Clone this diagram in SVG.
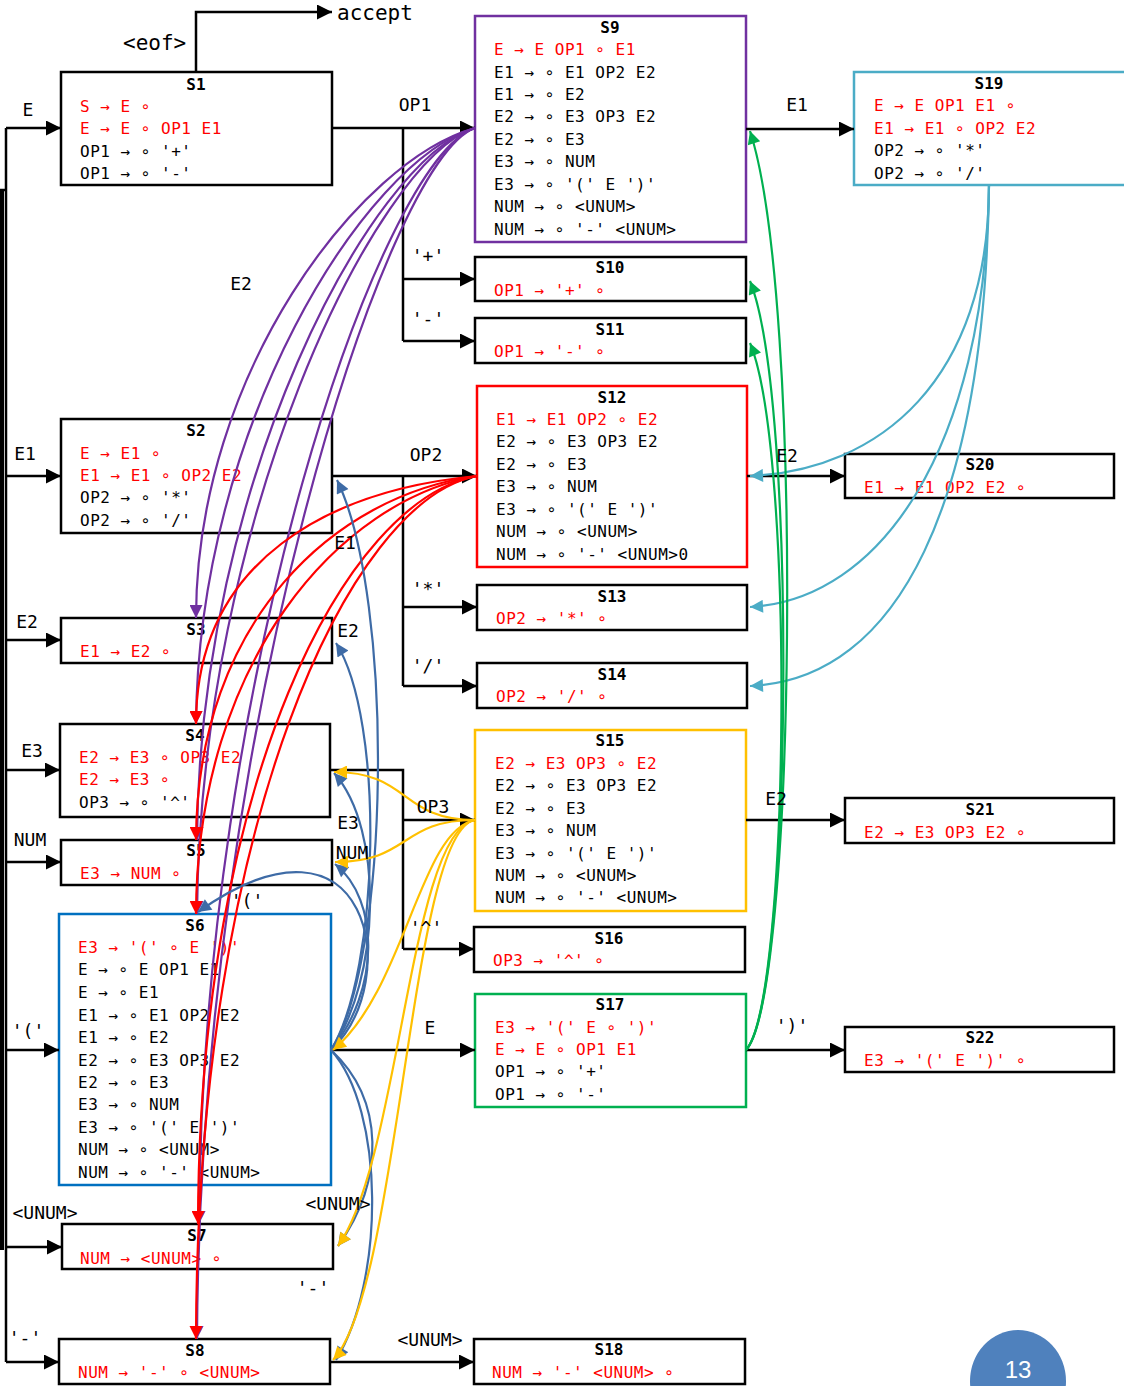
<svg xmlns="http://www.w3.org/2000/svg" width="1124" height="1386" viewBox="0 0 1124 1386">
<style>
  .box{fill:#fff;stroke:#000;stroke-width:2.5}
  .t{font-family:"DejaVu Sans Mono","Liberation Mono",monospace;font-size:16px;letter-spacing:0.5px;fill:#000}
  .r{fill:#ff0000}
  .h{font-family:"DejaVu Sans Mono","Liberation Mono",monospace;font-size:16px;font-weight:bold;text-anchor:middle;fill:#000}
  .lbl{font-family:"DejaVu Sans Mono","Liberation Mono",monospace;font-size:18px;text-anchor:middle;fill:#000}
  .big{font-family:"DejaVu Sans Mono","Liberation Mono",monospace;font-size:21px;fill:#000}
  .blk{fill:none;stroke:#000;stroke-width:2.5}
  .blka{fill:none;stroke:#000;stroke-width:2.5;marker-end:url(#ak)}
  .pu{fill:none;stroke:#7030a0;stroke-width:2.2;marker-end:url(#apu)}
  .rd{fill:none;stroke:#ff0000;stroke-width:2.2;marker-end:url(#ard)}
  .bl{fill:none;stroke:#3e6ba6;stroke-width:2.2;marker-end:url(#abl)}
  .ye{fill:none;stroke:#ffc000;stroke-width:2.2;marker-end:url(#aye)}
  .te{fill:none;stroke:#4bacc6;stroke-width:2.2;marker-end:url(#ate)}
  .gr{fill:none;stroke:#00b050;stroke-width:2.2;marker-end:url(#agr)}
</style>
<defs>
  <marker id="ak" viewBox="0 0 10 10" refX="10" refY="5" markerWidth="17" markerHeight="15" markerUnits="userSpaceOnUse" orient="auto"><path d="M0,0 L10,5 L0,10 z" fill="#000"/></marker>
  <marker id="apu" viewBox="0 0 10 10" refX="10" refY="5" markerWidth="16" markerHeight="13" markerUnits="userSpaceOnUse" orient="auto"><path d="M0,0 L10,5 L0,10 z" fill="#7030a0"/></marker>
  <marker id="ard" viewBox="0 0 10 10" refX="10" refY="5" markerWidth="16" markerHeight="13" markerUnits="userSpaceOnUse" orient="auto"><path d="M0,0 L10,5 L0,10 z" fill="#ff0000"/></marker>
  <marker id="abl" viewBox="0 0 10 10" refX="10" refY="5" markerWidth="16" markerHeight="13" markerUnits="userSpaceOnUse" orient="auto"><path d="M0,0 L10,5 L0,10 z" fill="#3e6ba6"/></marker>
  <marker id="aye" viewBox="0 0 10 10" refX="10" refY="5" markerWidth="16" markerHeight="13" markerUnits="userSpaceOnUse" orient="auto"><path d="M0,0 L10,5 L0,10 z" fill="#ffc000"/></marker>
  <marker id="ate" viewBox="0 0 10 10" refX="10" refY="5" markerWidth="16" markerHeight="13" markerUnits="userSpaceOnUse" orient="auto"><path d="M0,0 L10,5 L0,10 z" fill="#4bacc6"/></marker>
  <marker id="agr" viewBox="0 0 10 10" refX="10" refY="5" markerWidth="16" markerHeight="13" markerUnits="userSpaceOnUse" orient="auto"><path d="M0,0 L10,5 L0,10 z" fill="#00b050"/></marker>
</defs>
<rect width="1124" height="1386" fill="#fff"/>

<!-- states, left column -->
<g id="S1">
  <rect class="box" x="61" y="72" width="271" height="113"/>
  <text class="h" x="196" y="90">S1</text>
  <text class="t r" x="80" y="112">S → E ∘</text>
  <text class="t r" x="80" y="134">E → E ∘ OP1 E1</text>
  <text class="t" x="80" y="157">OP1 → ∘ '+'</text>
  <text class="t" x="80" y="179">OP1 → ∘ '-'</text>
</g>
<g id="S2">
  <rect class="box" x="61" y="419" width="271" height="114"/>
  <text class="h" x="196" y="436">S2</text>
  <text class="t r" x="80" y="459">E → E1 ∘</text>
  <text class="t r" x="80" y="481">E1 → E1 ∘ OP2 E2</text>
  <text class="t" x="80" y="503">OP2 → ∘ '*'</text>
  <text class="t" x="80" y="526">OP2 → ∘ '/'</text>
</g>
<g id="S3">
  <rect class="box" x="61" y="618" width="271" height="45"/>
  <text class="h" x="196" y="635">S3</text>
  <text class="t r" x="80" y="657">E1 → E2 ∘</text>
</g>
<g id="S4">
  <rect class="box" x="60" y="724" width="270" height="93"/>
  <text class="h" x="195" y="741">S4</text>
  <text class="t r" x="79" y="763">E2 → E3 ∘ OP3 E2</text>
  <text class="t r" x="79" y="785">E2 → E3 ∘</text>
  <text class="t" x="79" y="808">OP3 → ∘ '^'</text>
</g>
<g id="S5">
  <rect class="box" x="61" y="840" width="271" height="45"/>
  <text class="h" x="196" y="856">S5</text>
  <text class="t r" x="80" y="879">E3 → NUM ∘</text>
</g>
<g id="S6">
  <rect class="box" x="59" y="914" width="272" height="271" style="stroke:#0070c0"/>
  <text class="h" x="195" y="931">S6</text>
  <text class="t r" x="78" y="953">E3 → '(' ∘ E ')'</text>
  <text class="t" x="78" y="975">E → ∘ E OP1 E1</text>
  <text class="t" x="78" y="998">E → ∘ E1</text>
  <text class="t" x="78" y="1021">E1 → ∘ E1 OP2 E2</text>
  <text class="t" x="78" y="1043">E1 → ∘ E2</text>
  <text class="t" x="78" y="1066">E2 → ∘ E3 OP3 E2</text>
  <text class="t" x="78" y="1088">E2 → ∘ E3</text>
  <text class="t" x="78" y="1110">E3 → ∘ NUM</text>
  <text class="t" x="78" y="1133">E3 → ∘ '(' E ')'</text>
  <text class="t" x="78" y="1155">NUM → ∘ &lt;UNUM&gt;</text>
  <text class="t" x="78" y="1178">NUM → ∘ '-' &lt;UNUM&gt;</text>
</g>
<g id="S7">
  <rect class="box" x="62" y="1224" width="271" height="45"/>
  <text class="h" x="197" y="1241">S7</text>
  <text class="t r" x="80" y="1264">NUM → &lt;UNUM&gt; ∘</text>
</g>
<g id="S8">
  <rect class="box" x="59" y="1339" width="271" height="45"/>
  <text class="h" x="195" y="1356">S8</text>
  <text class="t r" x="78" y="1378">NUM → '-' ∘ &lt;UNUM&gt;</text>
</g>

<!-- states, middle column -->
<g id="S9">
  <rect class="box" x="475" y="16" width="271" height="226" style="stroke:#7030a0"/>
  <text class="h" x="610" y="33">S9</text>
  <text class="t r" x="494" y="55">E → E OP1 ∘ E1</text>
  <text class="t" x="494" y="78">E1 → ∘ E1 OP2 E2</text>
  <text class="t" x="494" y="100">E1 → ∘ E2</text>
  <text class="t" x="494" y="122">E2 → ∘ E3 OP3 E2</text>
  <text class="t" x="494" y="145">E2 → ∘ E3</text>
  <text class="t" x="494" y="167">E3 → ∘ NUM</text>
  <text class="t" x="494" y="190">E3 → ∘ '(' E ')'</text>
  <text class="t" x="494" y="212">NUM → ∘ &lt;UNUM&gt;</text>
  <text class="t" x="494" y="235">NUM → ∘ '-' &lt;UNUM&gt;</text>
</g>
<g id="S10">
  <rect class="box" x="475" y="257" width="271" height="44"/>
  <text class="h" x="610" y="273">S10</text>
  <text class="t r" x="494" y="296">OP1 → '+' ∘</text>
</g>
<g id="S11">
  <rect class="box" x="475" y="318" width="271" height="45"/>
  <text class="h" x="610" y="335">S11</text>
  <text class="t r" x="494" y="357">OP1 → '-' ∘</text>
</g>
<g id="S12">
  <rect class="box" x="477" y="386" width="270" height="181" style="stroke:#ff0000"/>
  <text class="h" x="612" y="403">S12</text>
  <text class="t r" x="496" y="425">E1 → E1 OP2 ∘ E2</text>
  <text class="t" x="496" y="447">E2 → ∘ E3 OP3 E2</text>
  <text class="t" x="496" y="470">E2 → ∘ E3</text>
  <text class="t" x="496" y="492">E3 → ∘ NUM</text>
  <text class="t" x="496" y="515">E3 → ∘ '(' E ')'</text>
  <text class="t" x="496" y="537">NUM → ∘ &lt;UNUM&gt;</text>
  <text class="t" x="496" y="560">NUM → ∘ '-' &lt;UNUM&gt;0</text>
</g>
<g id="S13">
  <rect class="box" x="477" y="585" width="270" height="45"/>
  <text class="h" x="612" y="602">S13</text>
  <text class="t r" x="496" y="624">OP2 → '*' ∘</text>
</g>
<g id="S14">
  <rect class="box" x="477" y="663" width="270" height="45"/>
  <text class="h" x="612" y="680">S14</text>
  <text class="t r" x="496" y="702">OP2 → '/' ∘</text>
</g>
<g id="S15">
  <rect class="box" x="475" y="730" width="271" height="181" style="stroke:#ffc000"/>
  <text class="h" x="610" y="746">S15</text>
  <text class="t r" x="495" y="769">E2 → E3 OP3 ∘ E2</text>
  <text class="t" x="495" y="791">E2 → ∘ E3 OP3 E2</text>
  <text class="t" x="495" y="814">E2 → ∘ E3</text>
  <text class="t" x="495" y="836">E3 → ∘ NUM</text>
  <text class="t" x="495" y="859">E3 → ∘ '(' E ')'</text>
  <text class="t" x="495" y="881">NUM → ∘ &lt;UNUM&gt;</text>
  <text class="t" x="495" y="903">NUM → ∘ '-' &lt;UNUM&gt;</text>
</g>
<g id="S16">
  <rect class="box" x="474" y="927" width="271" height="45"/>
  <text class="h" x="609" y="944">S16</text>
  <text class="t r" x="493" y="966">OP3 → '^' ∘</text>
</g>
<g id="S17">
  <rect class="box" x="475" y="994" width="271" height="113" style="stroke:#00b050"/>
  <text class="h" x="610" y="1010">S17</text>
  <text class="t r" x="495" y="1033">E3 → '(' E ∘ ')'</text>
  <text class="t r" x="495" y="1055">E → E ∘ OP1 E1</text>
  <text class="t" x="495" y="1077">OP1 → ∘ '+'</text>
  <text class="t" x="495" y="1100">OP1 → ∘ '-'</text>
</g>
<g id="S18">
  <rect class="box" x="474" y="1339" width="271" height="45"/>
  <text class="h" x="609" y="1355">S18</text>
  <text class="t r" x="492" y="1378">NUM → '-' &lt;UNUM&gt; ∘</text>
</g>

<!-- states, right column -->
<g id="S19">
  <rect class="box" x="854" y="72" width="272" height="113" style="stroke:#4bacc6"/>
  <text class="h" x="989" y="89">S19</text>
  <text class="t r" x="874" y="111">E → E OP1 E1 ∘</text>
  <text class="t r" x="874" y="134">E1 → E1 ∘ OP2 E2</text>
  <text class="t" x="874" y="156">OP2 → ∘ '*'</text>
  <text class="t" x="874" y="179">OP2 → ∘ '/'</text>
</g>
<g id="S20">
  <rect class="box" x="845" y="454" width="269" height="44"/>
  <text class="h" x="980" y="470">S20</text>
  <text class="t r" x="864" y="493">E1 → E1 OP2 E2 ∘</text>
</g>
<g id="S21">
  <rect class="box" x="845" y="798" width="269" height="45"/>
  <text class="h" x="980" y="815">S21</text>
  <text class="t r" x="864" y="838">E2 → E3 OP3 E2 ∘</text>
</g>
<g id="S22">
  <rect class="box" x="845" y="1027" width="269" height="45"/>
  <text class="h" x="980" y="1043">S22</text>
  <text class="t r" x="864" y="1066">E3 → '(' E ')' ∘</text>
</g>

<!-- transitions -->
<g id="connectors">
  <!-- start bus on the left -->
  <path class="blk" d="M6,128 V1362"/>
  <path d="M2,190 V1250" stroke="#000" stroke-width="4" fill="none"/>
  <path class="blk" d="M0,190 H6"/>
  <path class="blka" d="M6,128 H61"/>
  <path class="blka" d="M6,476 H61"/>
  <path class="blka" d="M6,640 H61"/>
  <path class="blka" d="M6,770 H60"/>
  <path class="blka" d="M6,862 H61"/>
  <path class="blka" d="M6,1050 H59"/>
  <path class="blka" d="M6,1247 H62"/>
  <path class="blka" d="M6,1362 H59"/>

  <!-- accept -->
  <path class="blka" d="M196,72 V12 H332"/>

  <!-- shift / goto edges -->
  <path class="blka" d="M332,128 H475"/>
  <path class="blk" d="M403,128 V341"/>
  <path class="blka" d="M403,279 H475"/>
  <path class="blka" d="M403,341 H475"/>
  <path class="blka" d="M746,129 H854"/>

  <path class="blka" d="M332,476 H477"/>
  <path class="blk" d="M403,476 V686"/>
  <path class="blka" d="M403,607 H477"/>
  <path class="blka" d="M403,686 H477"/>
  <path class="blka" d="M747,476 H845"/>

  <path class="blk" d="M330,770 H403 V949"/>
  <path class="blka" d="M403,820 H475"/>
  <path class="blka" d="M403,949 H474"/>
  <path class="blka" d="M746,820 H845"/>

  <path class="blka" d="M331,1050 H475"/>
  <path class="blka" d="M746,1050 H845"/>
  <path class="blka" d="M330,1362 H474"/>

  <!-- from S9 -->
  <path class="pu" d="M475,128 C360,160 196,373 196,618"/>
  <path class="pu" d="M475,128 C365,160 198,426 196,724"/>
  <path class="pu" d="M475,128 C370,160 199,484 197,840"/>
  <path class="pu" d="M475,128 C375,160 200,521 197,914"/>
  <path class="pu" d="M475,128 C380,160 202,676 199,1224"/>
  <path class="pu" d="M475,128 C385,160 200,733 197,1339"/>

  <!-- from S12 -->
  <path class="rd" d="M477,476 C330,490 196,560 196,724"/>
  <path class="rd" d="M477,476 C335,495 197,620 196,840"/>
  <path class="rd" d="M477,476 C340,500 197,660 196,914"/>
  <path class="rd" d="M477,476 C345,500 199,780 198,1224"/>
  <path class="rd" d="M477,476 C350,500 197,820 196,1339"/>

  <!-- from S6 -->
  <path class="bl" d="M331,1050 C390,960 395,600 337,480"/>
  <path class="bl" d="M331,1050 C380,970 385,720 336,643"/>
  <path class="bl" d="M331,1050 C380,980 385,830 334,773"/>
  <path class="bl" d="M331,1050 C380,990 380,900 335,864"/>
  <path class="bl" d="M331,1050 C405,980 370,790 198,912"/>
  <path class="bl" d="M331,1050 C385,1100 385,1180 338,1246"/>
  <path class="bl" d="M331,1050 C385,1110 385,1280 336,1360"/>

  <!-- from S15 -->
  <path class="ye" d="M475,820 C400,820 410,772 334,772"/>
  <path class="ye" d="M475,820 C400,820 410,862 335,862"/>
  <path class="ye" d="M475,820 C420,830 405,990 333,1050"/>
  <path class="ye" d="M475,820 C410,830 400,1160 338,1246"/>
  <path class="ye" d="M475,820 C410,830 400,1290 333,1360"/>

  <!-- from S19 -->
  <path class="te" d="M989,185 C989,380 880,470 750,476"/>
  <path class="te" d="M989,185 C985,450 880,600 750,607"/>
  <path class="te" d="M989,185 C985,500 900,680 750,686"/>

  <!-- from S17 -->
  <path class="gr" d="M746,1050 C795,1000 805,300 750,131"/>
  <path class="gr" d="M746,1050 C792,1000 798,400 750,281"/>
  <path class="gr" d="M746,1050 C790,1000 795,450 750,343"/>

  <!-- edge labels -->
  <text class="big" x="123" y="50">&lt;eof&gt;</text>
  <text class="big" x="337" y="20">accept</text>
  <text class="lbl" x="28" y="116">E</text>
  <text class="lbl" x="415" y="111">OP1</text>
  <text class="lbl" x="797" y="111">E1</text>
  <text class="lbl" x="428" y="262">'+'</text>
  <text class="lbl" x="428" y="325">'-'</text>
  <text class="lbl" x="241" y="290">E2</text>
  <text class="lbl" x="25" y="460">E1</text>
  <text class="lbl" x="426" y="461">OP2</text>
  <text class="lbl" x="787" y="462">E2</text>
  <text class="lbl" x="345" y="549">E1</text>
  <text class="lbl" x="428" y="595">'*'</text>
  <text class="lbl" x="27" y="628">E2</text>
  <text class="lbl" x="348" y="637">E2</text>
  <text class="lbl" x="428" y="672">'/'</text>
  <text class="lbl" x="32" y="757">E3</text>
  <text class="lbl" x="433" y="813">OP3</text>
  <text class="lbl" x="776" y="805">E2</text>
  <text class="lbl" x="348" y="829">E3</text>
  <text class="lbl" x="30" y="846">NUM</text>
  <text class="lbl" x="352" y="859">NUM</text>
  <text class="lbl" x="247" y="907">'('</text>
  <text class="lbl" x="426" y="934">'^'</text>
  <text class="lbl" x="28" y="1037">'('</text>
  <text class="lbl" x="430" y="1034">E</text>
  <text class="lbl" x="792" y="1032">')'</text>
  <text class="lbl" x="338" y="1210">&lt;UNUM&gt;</text>
  <text class="lbl" x="45" y="1219">&lt;UNUM&gt;</text>
  <text class="lbl" x="313" y="1294">'-'</text>
  <text class="lbl" x="25" y="1344">'-'</text>
  <text class="lbl" x="430" y="1346">&lt;UNUM&gt;</text>
</g>

<!-- page number -->
<g id="page">
  <ellipse cx="1018" cy="1381" rx="48" ry="51" fill="#4f81bd"/>
  <text x="1018" y="1378" font-family="Liberation Sans, Arial, sans-serif" font-size="24" fill="#fff" text-anchor="middle">13</text>
</g>
</svg>
